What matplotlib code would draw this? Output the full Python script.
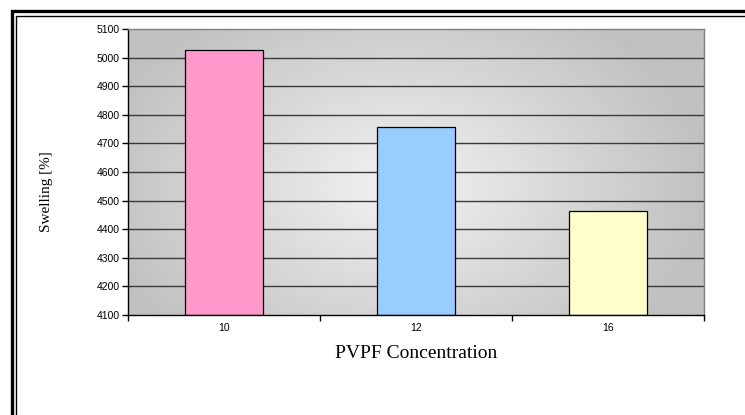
import numpy as np
import matplotlib.pyplot as plt
from matplotlib.patches import Rectangle

# swelling measured for each PVPF concentration
concentrations = ["10", "12", "16"]
swelling = [5025, 4757, 4462]
bar_colors = ["#FF99CC", "#99CCFF", "#FFFFCC"]
y_ticks = list(range(4100, 5101, 100))

W, H = 745, 415
fig = plt.figure(figsize=(W / 100, H / 100), dpi=100)
fig.patch.set_facecolor("white")

# double frame around the chart, running off the right and bottom edges
fig.add_artist(Rectangle((11.5 / W, -0.1), 1.2, 1 - 11.5 / H + 0.1,
                         transform=fig.transFigure, fill=False,
                         edgecolor="black", linewidth=2.4))
fig.add_artist(Rectangle((16 / W, -0.1), 1.2, 1 - 16 / H + 0.1,
                         transform=fig.transFigure, fill=False,
                         edgecolor="black", linewidth=1.0))

left, right, top, bottom = 128, 704, 29, 315
ax = fig.add_axes([left / W, 1 - bottom / H, (right - left) / W, (bottom - top) / H])

x = np.arange(len(concentrations))
ax.set_xlim(-0.5, len(concentrations) - 0.5)
ax.set_ylim(y_ticks[0], y_ticks[-1])

# gray backdrop with a light spot near the middle
gx, gy = np.meshgrid(np.linspace(0, 1, 300), np.linspace(0, 1, 200))
r = np.sqrt(((gx - 0.47) / 0.55) ** 2 + ((gy - 0.45) / 0.75) ** 2)
shade = np.clip(0.95 - 0.2 * r, 0.75, 0.95)
ax.imshow(shade, cmap="gray", vmin=0, vmax=1, extent=(0, 1, 0, 1),
          transform=ax.transAxes, aspect="auto", zorder=0, origin="lower",
          interpolation="bilinear")

for t in y_ticks[1:-1]:
    ax.axhline(t, color="#3a3a3a", linewidth=1.0, zorder=1)

ax.bar(x, [v - y_ticks[0] for v in swelling], bottom=y_ticks[0], width=0.41,
       color=bar_colors, edgecolor="black", linewidth=0.9, zorder=2)

for side in ["left", "bottom"]:
    ax.spines[side].set_color("black")
    ax.spines[side].set_linewidth(1.0)
for side in ["top", "right"]:
    ax.spines[side].set_color("#808080")
    ax.spines[side].set_linewidth(1.0)

ax.set_yticks(y_ticks)
ax.set_yticklabels([str(t) for t in y_ticks], fontsize=7.5, family="Liberation Sans")
ax.set_xticks(np.arange(len(concentrations) + 1) - 0.5)
ax.set_xticklabels([])
ax.set_xticks(x, minor=True)
ax.set_xticklabels(concentrations, minor=True, fontsize=7.5, family="Liberation Sans")
ax.tick_params(axis="both", which="major", direction="out", length=4, width=1.0, color="black")
ax.tick_params(axis="x", which="minor", length=0, pad=6)
ax.tick_params(axis="y", pad=2)

ax.set_xlabel("PVPF Concentration", fontsize=14, family="Liberation Serif")
ax.xaxis.set_label_coords(0.5, -0.105)
ax.set_ylabel("Swelling [%]", fontsize=11, family="Liberation Serif")
ax.yaxis.set_label_coords(-0.131, 0.43)

fig.savefig("out.png", dpi=100)
